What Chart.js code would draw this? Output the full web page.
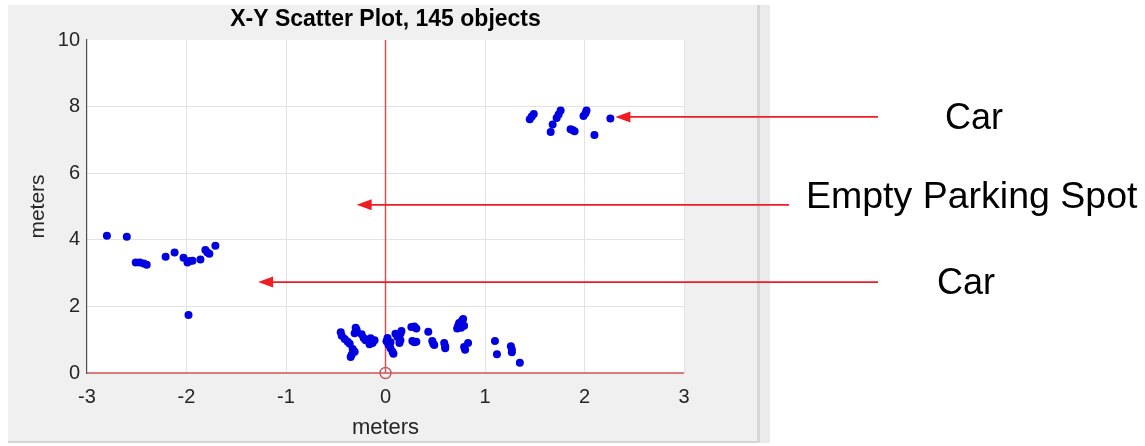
<!DOCTYPE html>
<html><head><meta charset="utf-8">
<script src="https://cdn.jsdelivr.net/npm/chart.js@4.4.0/dist/chart.umd.min.js"></script>
<style>html,body{margin:0;padding:0;background:#fff;}canvas{display:block;}</style>
</head><body>
<canvas id="c" width="1145" height="446"></canvas>
<script>
// ---- data ----
const titleText = "X-Y Scatter Plot, 145 objects";
const xTitle = "meters";
const yTitle = "meters";

const carRightX = [1.45,1.47,1.49,1.72,1.74,1.76,1.68,1.66,1.86,1.88,1.90,1.99,2.01,2.02,2.10,2.26];
const carRightY = [7.62,7.70,7.78,7.66,7.76,7.88,7.46,7.24,7.32,7.30,7.26,7.72,7.80,7.88,7.15,7.64];

const carLeftX = [-2.80,-2.60,-2.51,-2.47,-2.43,-2.40,-2.21,-2.12,-2.03,-1.99,-1.97,-1.94,-1.86,-1.81,-1.79,-1.77,-1.71,-1.98];
const carLeftY = [4.12,4.09,3.32,3.32,3.29,3.25,3.49,3.62,3.46,3.32,3.36,3.37,3.41,3.69,3.62,3.58,3.82,1.74];

const curbX = [-0.45,-0.44,-0.41,-0.38,-0.36,-0.30,-0.29,-0.31,-0.33,-0.31,-0.34,-0.35,-0.24,-0.22,-0.20,-0.15,-0.13,-0.16,-0.11,
               0.01,0.02,0.03,0.05,0.07,0.08,0.05,0.10,0.12,0.16,0.15,0.15,0.14,0.26,0.29,0.31,0.27,0.29,0.31,0.43,0.47,0.48,0.49,
               0.59,0.60,0.60,0.72,0.73,0.74,0.77,0.78,0.76,0.79,0.80,0.79,0.83,1.10,1.12,1.26,1.27,1.27,1.35];
const curbY = [1.22,1.12,1.02,0.94,0.88,1.36,1.30,1.19,0.72,0.64,0.55,0.48,1.16,1.05,0.98,1.04,0.90,0.86,0.98,
               0.95,1.05,0.85,0.74,0.64,0.58,0.92,1.18,1.08,1.26,1.18,0.98,0.90,1.38,1.40,1.34,0.96,0.92,0.94,1.24,0.96,0.88,0.84,
               0.90,0.80,0.74,1.34,1.42,1.50,1.58,1.62,1.36,1.42,0.70,0.78,0.90,0.96,0.56,0.80,0.70,0.62,0.31];

const xTicks = [-3,-2,-1,0,1,2,3];
const yTicks = [0,2,4,6,8,10];

const noteLabels = ["Car", "Empty Parking Spot", "Car"];
const noteTipX = [2.31, -0.29, -1.28];
const noteTipY = [7.69, 5.05, 2.73];

// ---- helpers ----
function pts(xs, ys){ return xs.map((x,i)=>({x:x, y:ys[i]})); }
const allPts = pts(carRightX, carRightY).concat(pts(carLeftX, carLeftY), pts(curbX, curbY));

const FONT = "'Liberation Sans', Arial, sans-serif";

const bgPlugin = {
  id:'bg',
  beforeDraw(chart){
    const c = chart.ctx, a = chart.chartArea;
    c.save();
    c.fillStyle = '#ffffff'; c.fillRect(0,0,chart.width,chart.height);
    c.fillStyle = '#f0f0f0'; c.fillRect(8,5,749,437);
    c.fillStyle = '#d4d4d4'; c.fillRect(8,441,762,2);
    c.fillStyle = '#d6d6d6'; c.fillRect(757,5,3,438);
    c.fillStyle = '#ebebeb'; c.fillRect(760,5,10,438);
    c.fillStyle = '#ffffff'; c.fillRect(a.left,a.top,a.right-a.left,a.bottom-a.top);
    c.restore();
  }
};

const notePlugin = {
  id:'notes',
  afterDraw(chart){
    const c = chart.ctx, xs = chart.scales.x, ys = chart.scales.y;
    const tails = [878, 789, 878];
    const textX = [945, 806, 937];
    const baseOff = [12, 3, 12];
    c.save();
    for (let i=0;i<noteLabels.length;i++){
      const tx = xs.getPixelForValue(noteTipX[i]);
      const ty = ys.getPixelForValue(noteTipY[i]);
      c.strokeStyle = '#ee1c24'; c.fillStyle = '#ee1c24'; c.lineWidth = 1.6;
      c.beginPath(); c.moveTo(tails[i], ty); c.lineTo(tx+12, ty); c.stroke();
      c.beginPath(); c.moveTo(tx, ty); c.lineTo(tx+15, ty-5.5); c.lineTo(tx+15, ty+5.5); c.closePath(); c.fill();
      c.fillStyle = '#000';
      c.font = (i===1 ? "37.5px " : "36px ") + FONT;
      c.textBaseline = 'alphabetic'; c.textAlign = 'left';
      c.fillText(noteLabels[i], textX[i], ty + baseOff[i]);
    }
    c.restore();
  }
};

const red = 'rgb(204,84,84)';

new Chart(document.getElementById('c'), {
  type:'scatter',
  data:{
    datasets:[
      { label:'objects', data: allPts, backgroundColor:'rgb(0,0,225)', borderColor:'rgb(0,0,225)',
        pointRadius:4, pointBorderWidth:0 },
      { label:'origin', data:[{x:0,y:0}], pointStyle:'circle', pointRadius:5.5, pointBorderWidth:1.4,
        pointBackgroundColor:'rgba(0,0,0,0)', pointBorderColor:red, clip:false },
      { label:'vline', type:'line', data:[{x:0,y:yTicks[0]},{x:0,y:yTicks[yTicks.length-1]}], borderColor:red,
        borderWidth:1.5, pointRadius:0, clip:false },
      { label:'hline', type:'line', data:[{x:xTicks[0],y:0},{x:xTicks[xTicks.length-1],y:0}], borderColor:red,
        borderWidth:1.5, pointRadius:0, clip:false }
    ]
  },
  options:{
    responsive:false, animation:false, devicePixelRatio:1,
    layout:{ padding:{left:0, right:461, top:0, bottom:0} },
    plugins:{
      legend:{display:false}, tooltip:{enabled:false},
      title:{ display:true, text:titleText, color:'#000', fullSize:false, font:{family:FONT, size:23, weight:'bold'},
              padding:{top:6, bottom:6.4} }
    },
    scales:{
      x:{ type:'linear', min:-3, max:3,
          afterBuildTicks(s){ s.ticks = xTicks.map(v=>({value:v})); },
          afterFit(s){ s.height = 73; },
          grid:{ drawTicks:false, color:(ctx)=> (ctx.tick && (ctx.tick.value===-3)) ? 'rgba(0,0,0,0)' : '#e3e3e3', lineWidth:1 },
          border:{ display:false },
          ticks:{ color:'#262626', font:{family:FONT, size:20}, padding:12 },
          title:{ display:true, text:xTitle, color:'#262626', font:{family:FONT, size:22}, padding:{top:0, bottom:5} }
      },
      y:{ type:'linear', min:0, max:10,
          afterBuildTicks(s){ s.ticks = yTicks.map(v=>({value:v})); },
          afterFit(s){ s.width = 87; },
          grid:{ drawTicks:false, color:(ctx)=> (ctx.tick && (ctx.tick.value===10 || ctx.tick.value===0)) ? 'rgba(0,0,0,0)' : '#e3e3e3', lineWidth:1 },
          border:{ display:true, color:'#4d4d4d', width:1.2 },
          ticks:{ color:'#262626', font:{family:FONT, size:20}, padding:7 },
          title:{ display:true, text:yTitle, color:'#262626', font:{family:FONT, size:21}, padding:{top:26, bottom:0} }
      }
    }
  },
  plugins:[bgPlugin, notePlugin]
});
</script>
</body></html>
